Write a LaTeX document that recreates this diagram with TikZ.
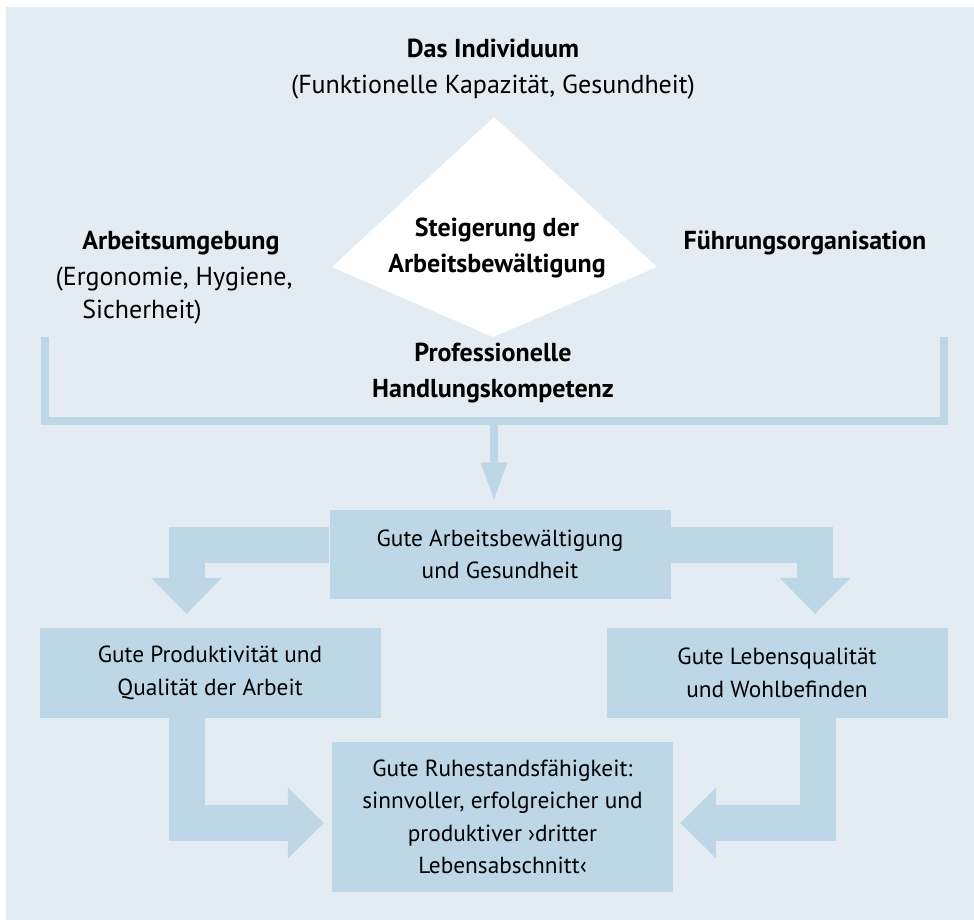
\documentclass[tikz,border=0pt]{standalone}
\usepackage{fontspec}
\setmainfont{PT Sans}
\usetikzlibrary{arrows.meta,calc,positioning}

\definecolor{bgblue}{HTML}{E4ECF3}
\definecolor{boxblue}{HTML}{BED7E6}

\tikzset{
  box/.style={fill=boxblue, minimum width=341pt, align=center, inner sep=0pt,
    font=\fontsize{23.3}{32.5}\selectfont},
  txt/.style={align=center, inner sep=0pt, font=\fontsize{26}{36}\selectfont},
  hd/.style={txt, font=\fontsize{26}{36}\selectfont\bfseries},
  flow/.style={draw=boxblue, line width=36pt, line join=miter,
    -{Triangle[width=71pt,length=36pt,line width=0pt]}},
  flowthin/.style={draw=boxblue, line width=8pt,
    -{Triangle[width=27pt,length=37pt,line width=0pt]}},
  bracket/.style={draw=boxblue, line width=8pt, line join=miter}
}

\begin{document}
\begin{tikzpicture}[x=1pt,y=-1pt]
    \useasboundingbox (0,0) rectangle (974,920);
    \fill[bgblue] (6,7) rectangle (974,920);

    % Individuum and diamond
    \node[hd] (indiv) at (493,48) {Das Individuum};
    \node[txt] (indivtxt) at (493,87) {(Funktionelle Kapazität, Gesundheit)};
    \fill[white] (494,117) -- (657,267) -- (493,337) -- (332,267) -- cycle;
    \node[hd] (steig) at (497,248) {Steigerung der\\Arbeitsbewältigung};

    \node[hd] (umgeb) at (181,243) {Arbeitsumgebung};
    \node[txt] (umgebtxt) at (174,279) {(Ergonomie, Hygiene,};
    \node[txt] (umgebtxt2) at (142,312) {Sicherheit)};
    \node[hd] (fuehr) at (805,243) {Führungsorganisation};
    \node[hd] (prof) at (493,373) {Professionelle\\Handlungskompetenz};

    % Bracket
    \draw[bracket] (44.5,337) -- (44.5,421) -- (944,421) -- (944,337);
    \coordinate (bar) at (494,421);

    % Boxes
    \node[box, minimum height=89pt] (gut) at (500,554.5) {Gute Arbeitsbewältigung\\und Gesundheit};
    \node[box, minimum height=90pt] (prod) at (210,673) {Gute Produktivität und\\Qualität der Arbeit};
    \node[box, minimum height=90pt] (leben) at (777,673) {Gute Lebensqualität\\und Wohlbefinden};
    \node[box, minimum height=150pt] (ruhe) at (502.5,817) {Gute Ruhestandsfähigkeit:\\sinnvoller, erfolgreicher und\\produktiver ›dritter\\Lebensabschnitt‹};

    % Arrows
    \draw[flowthin] (bar) -- ([xshift=-6pt,yshift=10.5pt]gut.north);
    \draw[flow] ([yshift=9.5pt]gut.west) -| ([xshift=-23.5pt,yshift=14pt]prod.north);
    \draw[flow] ([yshift=9.5pt]gut.east) -| ([xshift=38pt,yshift=14pt]leben.north);
    \draw[flow] ([xshift=-23pt]prod.south) |- ([xshift=-8pt,yshift=-6pt]ruhe.west);
    \draw[flow] ([xshift=41pt]leben.south) |- ([xshift=7pt,yshift=-6pt]ruhe.east);
\end{tikzpicture}
\end{document}
